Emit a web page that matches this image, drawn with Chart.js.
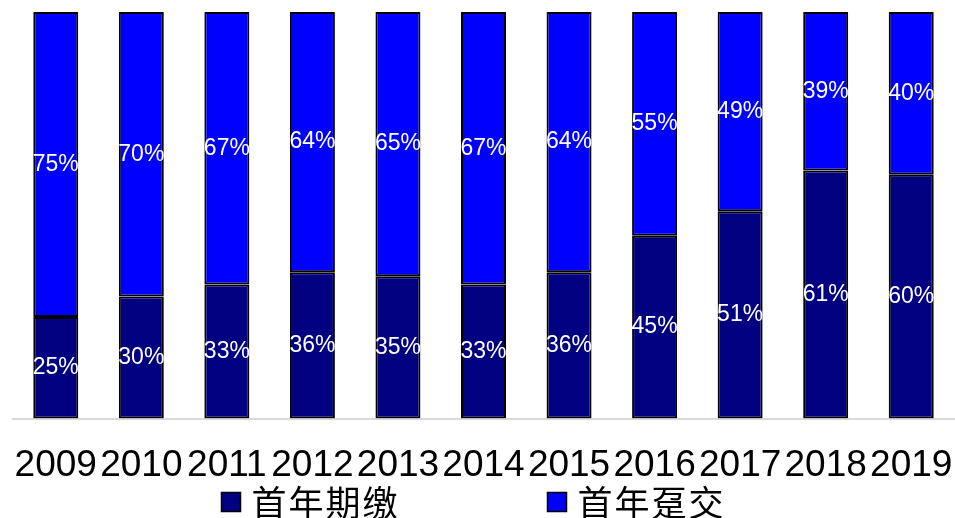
<!DOCTYPE html>
<html>
<head>
<meta charset="utf-8">
<script src="https://cdn.jsdelivr.net/npm/chart.js@4/dist/chart.umd.min.js"></script>
<style>
  html, body { margin: 0; padding: 0; background: #fff; }
  #wrap { width: 955px; height: 518px; }
</style>
</head>
<body>
<div id="wrap"><canvas id="c" width="955" height="518"></canvas></div>
<script>
const years = ['2009','2010','2011','2012','2013','2014','2015','2016','2017','2018','2019'];
const regularPremium = [25, 30, 33, 36, 35, 33, 36, 45, 51, 61, 60];   // 首年期缴 (%)
const singlePremium  = [75, 70, 67, 64, 65, 67, 64, 55, 49, 39, 40];   // 首年趸交 (%)
const seriesNames = ['首年期缴', '首年趸交'];

// Writes each segment's percentage in the middle of its bar
const segmentLabels = {
  id: 'segmentLabels',
  afterDatasetsDraw(chart) {
    const ctx = chart.ctx;
    ctx.save();
    ctx.fillStyle = '#ffffff';
    ctx.font = '23px "Liberation Sans", Arial, sans-serif';
    ctx.textAlign = 'center';
    ctx.textBaseline = 'middle';
    chart.data.datasets.forEach((ds, di) => {
      const meta = chart.getDatasetMeta(di);
      meta.data.forEach((bar, i) => {
        const p = bar.getProps(['x', 'y', 'base'], true);
        ctx.fillText(ds.data[i] + '%', p.x, (p.y + p.base) / 2);
      });
    });
    ctx.restore();
  }
};

// Single-row legend with wide spacing between the two entries
const wideLegend = {
  id: 'wideLegend',
  afterDraw(chart) {
    const ctx = chart.ctx;
    const box = 19, gapText = 11, gapItem = 148, cy = 502;
    ctx.save();
    ctx.font = '35px "Noto Sans CJK SC", sans-serif';
    if ('letterSpacing' in ctx) ctx.letterSpacing = '2px';
    ctx.textBaseline = 'middle';
    ctx.textAlign = 'left';
    const items = chart.data.datasets.map(ds => ({
      text: ds.label, color: ds.backgroundColor, w: ctx.measureText(ds.label).width
    }));
    const total = items.reduce((s, it) => s + box + gapText + it.w, 0) + gapItem * (items.length - 1);
    let x = chart.width / 2 - total / 2 - 4;
    items.forEach(it => {
      ctx.fillStyle = it.color;
      ctx.fillRect(x, cy - box / 2, box, box);
      ctx.strokeStyle = '#000000';
      ctx.lineWidth = 1.5;
      ctx.strokeRect(x, cy - box / 2, box, box);
      ctx.fillStyle = '#000000';
      ctx.fillText(it.text, x + box + gapText, cy + 1);
      x += box + gapText + it.w + gapItem;
    });
    ctx.restore();
  }
};

new Chart(document.getElementById('c'), {
  type: 'bar',
  data: {
    labels: years,
    datasets: [
      { label: seriesNames[0], data: regularPremium, backgroundColor: '#000080',
        borderColor: '#000000', borderWidth: 2, borderSkipped: false },
      { label: seriesNames[1], data: singlePremium, backgroundColor: '#0000ff',
        borderColor: '#000000', borderWidth: 2, borderSkipped: false }
    ]
  },
  options: {
    responsive: false,
    animation: false,
    devicePixelRatio: 1,
    layout: { padding: { top: 12, left: 13, right: 1, bottom: 13 } },
    datasets: { bar: { categoryPercentage: 0.526, barPercentage: 1.0 } },
    scales: {
      x: {
        stacked: true,
        grid: { display: false },
        border: { display: true, color: '#d9d9d9', width: 2 },
        ticks: {
          color: '#000000',
          font: { family: '"Liberation Sans", Arial, sans-serif', size: 37 },
          maxRotation: 0, autoSkip: false, padding: 17
        },
        afterFit(scale) { scale.paddingLeft = 0; scale.paddingRight = 0; }
      },
      y: {
        stacked: true,
        display: false,
        min: 0, max: 100
      }
    },
    plugins: {
      legend: { display: false },
      tooltip: { enabled: false }
    }
  },
  plugins: [segmentLabels, wideLegend]
});
</script>
</body>
</html>
